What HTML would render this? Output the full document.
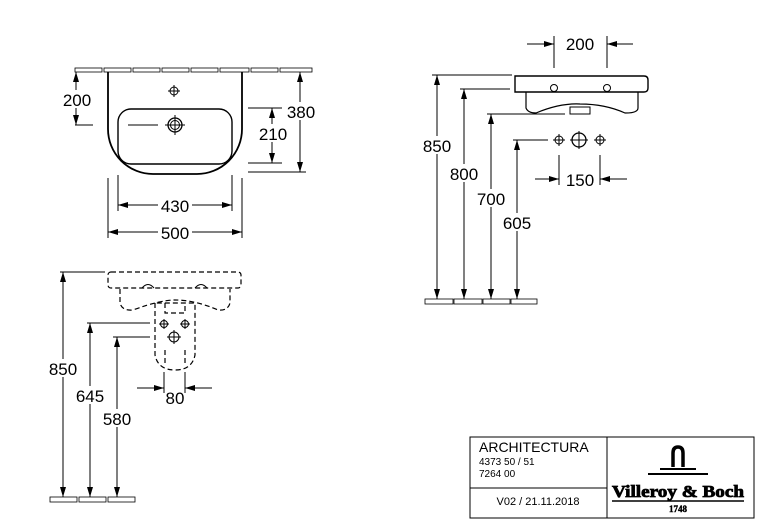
<!DOCTYPE html>
<html><head><meta charset="utf-8"><style>
html,body{margin:0;padding:0;background:#fff;}
svg{display:block;font-family:"Liberation Sans",Arial,sans-serif;}
</style></head><body>
<svg width="762" height="522" viewBox="0 0 762 522" xmlns="http://www.w3.org/2000/svg">
<defs>
<marker id="a" viewBox="0 0 10 6" refX="10" refY="3" markerWidth="10" markerHeight="6" markerUnits="userSpaceOnUse" orient="auto-start-reverse"><path d="M0,0L10,3L0,6z" fill="#000"/></marker>
</defs>
<g stroke="#000" fill="none" stroke-width="1">
<!-- TOP VIEW -->
<g stroke-width="0.8">
<rect x="75" y="68" width="27" height="4"/><rect x="104" y="68" width="27" height="4"/><rect x="133" y="68" width="27" height="4"/><rect x="162" y="68" width="27" height="4"/><rect x="191" y="68" width="27" height="4"/><rect x="220" y="68" width="29" height="4"/><rect x="251" y="68" width="27" height="4"/><rect x="280" y="68" width="32" height="4"/>
</g>
<path d="M108,72 V129 A45,45 0 0 0 153,174 H197 A45,45 0 0 0 242,129 V72" stroke-width="1.8"/>
<rect x="118" y="109" width="114" height="55" rx="13" stroke-width="1.4"/>
<circle cx="174" cy="91" r="4"/><path d="M168,91h12M174,85v12"/>
<circle cx="175" cy="125" r="7" stroke-width="1.3"/><circle cx="175" cy="125" r="4.5"/><path d="M165,125h20M175,115v20"/>
<path d="M75,125h18M128,125h30"/>
<path d="M76,72V125" marker-start="url(#a)" marker-end="url(#a)"/>
<path d="M248,108h34M248,163h34M248,172h58"/>
<path d="M272,108V163" marker-start="url(#a)" marker-end="url(#a)"/>
<path d="M300,72V172" marker-start="url(#a)" marker-end="url(#a)"/>
<path d="M118,175V211M232,175V211M108,178V238M242,178V238"/>
<path d="M118,205H232" marker-start="url(#a)" marker-end="url(#a)"/>
<path d="M108,232H242" marker-start="url(#a)" marker-end="url(#a)"/>

<!-- SIDE VIEW -->
<path d="M515,76H644Q648,76 648,80V88Q648,92 644,92H515Z" stroke-width="1.4"/>
<path d="M526,92V108Q528,113 536,113Q560,103 580,104Q605,104 625,113Q638,113 638,108V92" stroke-width="1.2"/>
<rect x="570" y="107" width="20" height="7"/>
<circle cx="554" cy="88" r="3.5"/><circle cx="607" cy="88" r="3.5"/>
<path d="M554,36V68M607,36V68"/>
<path d="M527,44H554" marker-end="url(#a)"/><path d="M633,44H607" marker-end="url(#a)"/>
<path d="M432,75H512M460,89H510M487,114H565M513,140H548"/>
<path d="M437,75V299" marker-start="url(#a)" marker-end="url(#a)"/>
<path d="M464,89V299" marker-start="url(#a)" marker-end="url(#a)"/>
<path d="M491,114V299" marker-start="url(#a)" marker-end="url(#a)"/>
<path d="M517,140V299" marker-start="url(#a)" marker-end="url(#a)"/>
<circle cx="559" cy="140" r="4"/><path d="M553,140h12M559,134v12"/>
<circle cx="579" cy="140" r="7" stroke-width="1.3"/><path d="M570,140h18M579,131v18"/>
<circle cx="600" cy="140" r="4"/><path d="M594,140h12M600,134v12"/>
<path d="M559,155V185M600,155V185"/>
<path d="M535,179H559" marker-end="url(#a)"/><path d="M627,179H600" marker-end="url(#a)"/>
<g stroke-width="0.8"><rect x="425" y="299" width="28" height="5"/><rect x="454" y="299" width="28" height="5"/><rect x="483" y="299" width="27" height="5"/><rect x="511" y="299" width="26" height="5"/></g>

<!-- FRONT VIEW (dashed) -->
<g stroke-dasharray="5,3" stroke-width="1.2">
<rect x="108" y="272" width="133" height="16" rx="3"/>
<path d="M120,289V303Q122,311 133,310Q160,300 175,300Q195,300 218,310Q228,311 230,303V289"/>
<path d="M155,303V355Q158,370 175,370Q192,370 195,355V303H155M165,303V313H185V303"/>
<path d="M165,350V365M185,350V365"/>
</g>
<path d="M142,288Q148,281 154,288M195,288Q201,281 207,288"/>
<circle cx="164" cy="324" r="3.5"/><path d="M159,324h10M164,319v10"/>
<circle cx="185" cy="324" r="3.5"/><path d="M180,324h10M185,319v10"/>
<circle cx="174" cy="337" r="5"/><path d="M167,337h14M174,330v14"/>
<path d="M60,272H105M87,323H150M113,337H150"/>
<path d="M63,272V497" marker-start="url(#a)" marker-end="url(#a)"/>
<path d="M90,323V497" marker-start="url(#a)" marker-end="url(#a)"/>
<path d="M117,337V497" marker-start="url(#a)" marker-end="url(#a)"/>
<path d="M164,372V393M185,372V393"/>
<path d="M137,388H164" marker-end="url(#a)"/><path d="M212,388H185" marker-end="url(#a)"/>
<g stroke-width="0.8"><rect x="50" y="497" width="27" height="5"/><rect x="79" y="497" width="27" height="5"/><rect x="108" y="497" width="27" height="5"/></g>

<!-- TITLE BLOCK -->
<rect x="470" y="437" width="284" height="81"/>
<path d="M607,437V518M470,488H607"/>
</g>

<g font-size="17" fill="#000" text-anchor="middle">
<g fill="#fff"><rect x="61" y="90" width="32" height="18"/><rect x="257" y="124" width="32" height="18"/><rect x="285" y="102" width="32" height="18"/><rect x="158" y="196" width="34" height="18"/><rect x="158" y="223" width="34" height="18"/>
<rect x="563" y="35" width="34" height="18"/><rect x="421" y="136" width="33" height="18"/><rect x="448" y="164" width="33" height="18"/><rect x="474" y="189" width="33" height="18"/><rect x="501" y="213" width="33" height="18"/><rect x="563" y="170" width="34" height="18"/>
<rect x="47" y="359" width="33" height="18"/><rect x="74" y="386" width="33" height="18"/><rect x="101" y="409" width="33" height="18"/></g>
<text x="77" y="106">200</text><text x="273" y="140">210</text><text x="301" y="118">380</text>
<text x="175" y="212">430</text><text x="175" y="239">500</text>
<text x="580" y="50">200</text><text x="437" y="152">850</text><text x="464" y="180">800</text><text x="491" y="205">700</text><text x="517" y="229">605</text><text x="580" y="186">150</text>
<text x="63" y="375">850</text><text x="90" y="402">645</text><text x="117" y="425">580</text><text x="175" y="404">80</text>
</g>
<g fill="#000">
<text x="479" y="452" font-size="14">ARCHITECTURA</text>
<text x="479" y="465" font-size="10">4373 50 / 51</text>
<text x="479" y="477" font-size="10">7264 00</text>
<text x="538" y="505" font-size="11" text-anchor="middle">V02 / 21.11.2018</text>
<text x="678" y="497" font-size="17" font-weight="bold" font-family="Liberation Serif,serif" text-anchor="middle" stroke="#000" stroke-width="0.8" textLength="132" lengthAdjust="spacingAndGlyphs">Villeroy &amp; Boch</text>
<text x="678" y="512" font-size="9" font-weight="bold" font-family="Liberation Serif,serif" text-anchor="middle" stroke="#000" stroke-width="0.4">1748</text>
</g>
<g stroke="#000" fill="none">
<path d="M673,467V453Q673,447 678,447Q683,447 683,453V467" stroke-width="3.5"/>
<path d="M660,469H696M648,474H708" stroke-width="2"/>
<path d="M612,501H744" stroke-width="1.5"/>
</g>
</svg>
</body></html>
